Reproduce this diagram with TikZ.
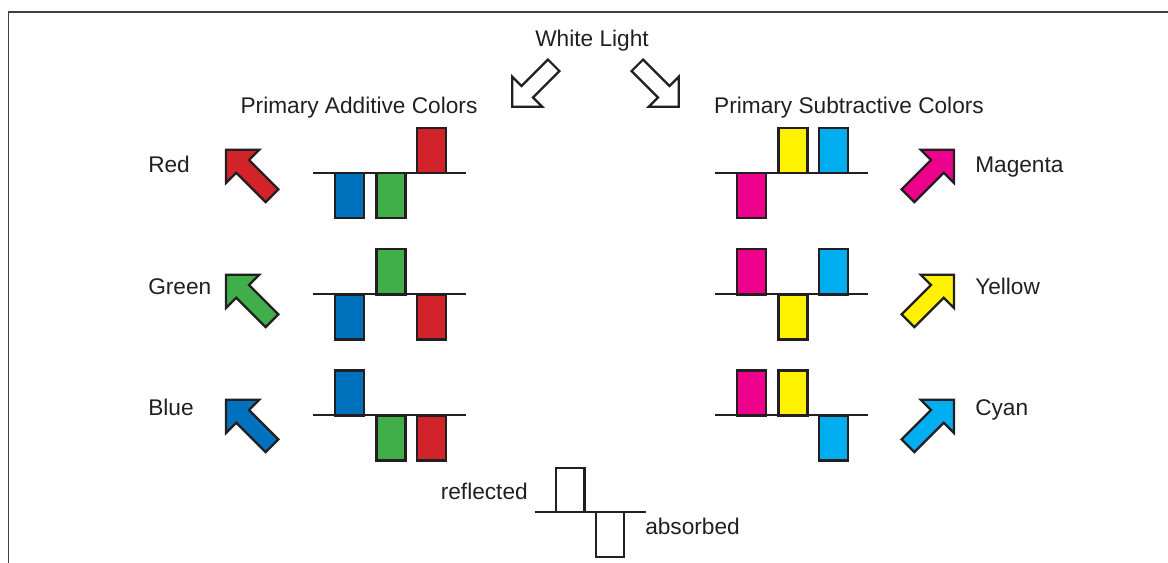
\documentclass[tikz,border=0pt]{standalone}
\usepackage{fontspec}
\setmainfont{Liberation Sans}
\usepackage{tikz}
\usetikzlibrary{positioning}

\definecolor{ink}{HTML}{231F20}
\definecolor{redc}{HTML}{D2232A}
\definecolor{greenc}{HTML}{40AE49}
\definecolor{bluec}{HTML}{0071BC}
\definecolor{magc}{HTML}{EC008C}
\definecolor{yelc}{HTML}{FFF200}
\definecolor{cyanc}{HTML}{00AEEF}

\newcommand{\spectrum}[8]{%
  \draw [axis] (#1,#2) -- ++(153,0);
  \draw [bar,fill=#6] (#1+22,#2) rectangle ++(29,#3);
  \draw [bar,fill=#7] (#1+63.5,#2) rectangle ++(29,#4);
  \draw [bar,fill=#8] (#1+104,#2) rectangle ++(29,#5);
}

\begin{document}
\begin{tikzpicture}[x=0.75pt,y=-0.75pt,
    lbl/.style={font=\fontsize{17}{20}\selectfont,text=ink,inner sep=0pt},
    bar/.style={draw=ink,line width=1.8pt},
    axis/.style={draw=ink,line width=1.5pt},
    fatarrow/.pic={\draw [draw=ink,line width=1.7pt,pic actions] (-32.5,-9) -- (9,-9) -- (9,-23.5) -- (32.5,0) -- (9,23.5) -- (9,9) -- (-32.5,9) -- cycle;}]
  \useasboundingbox (0,0) rectangle (1168,563);
  \draw [black!75,line width=1.4pt] (8.5,563) -- (8.5,12) -- (1168,12);

  \node [lbl,anchor=base] (white) at (592,47) {White Light};
  \pic [fill=white,rotate=225,scale=0.9] (wl) at (533,86) {fatarrow};
  \pic [fill=white,rotate=-45,scale=0.9] (wr) at (658,86) {fatarrow};

  \node [lbl,anchor=base] (additive) at (359,114) {Primary Additive Colors};
  \node [lbl,anchor=base] (subtractive) at (849,114) {Primary Subtractive Colors};

  \node [lbl,anchor=base west] (red) at (148,173) {Red};
  \node [lbl,anchor=base west] (green) at (148,294.5) {Green};
  \node [lbl,anchor=base west] (blue) at (148,415.5) {Blue};
  \node [lbl,anchor=base west] (magenta) at (975,173) {Magenta};
  \node [lbl,anchor=base west] (yellow) at (975,294.5) {Yellow};
  \node [lbl,anchor=base west] (cyan) at (975,415.5) {Cyan};

  \pic [fill=redc,rotate=135] (ra) at (249,172.75) {fatarrow};
  \pic [fill=greenc,rotate=135] (ga) at (249,297.75) {fatarrow};
  \pic [fill=bluec,rotate=135] (ba) at (249,422.75) {fatarrow};
  \pic [fill=magc,rotate=45] (ma) at (931,172.75) {fatarrow};
  \pic [fill=yelc,rotate=45] (ya) at (931,297.75) {fatarrow};
  \pic [fill=cyanc,rotate=45] (ca) at (931,422.75) {fatarrow};

  \spectrum{313}{173.3}{45}{45}{-45}{bluec}{greenc}{redc}
  \spectrum{313}{294.3}{45}{-45}{45}{bluec}{greenc}{redc}
  \spectrum{313}{415.3}{-45}{45}{45}{bluec}{greenc}{redc}
  \spectrum{715}{173.3}{45}{-45}{-45}{magc}{yelc}{cyanc}
  \spectrum{715}{294.3}{-45}{45}{-45}{magc}{yelc}{cyanc}
  \spectrum{715}{415.3}{-45}{-45}{45}{magc}{yelc}{cyanc}

  \draw [axis] (534.5,511.7) -- (646,511.7);
  \draw [bar,fill=white] (555.7,511.7) rectangle (584.3,467.7);
  \draw [bar,fill=white] (595.7,511.7) rectangle (624,556.7);
  \node [lbl,anchor=base east] (reflected) at (528,499.5) {reflected};
  \node [lbl,anchor=base west] (absorbed) at (645,534) {absorbed};
\end{tikzpicture}
\end{document}
